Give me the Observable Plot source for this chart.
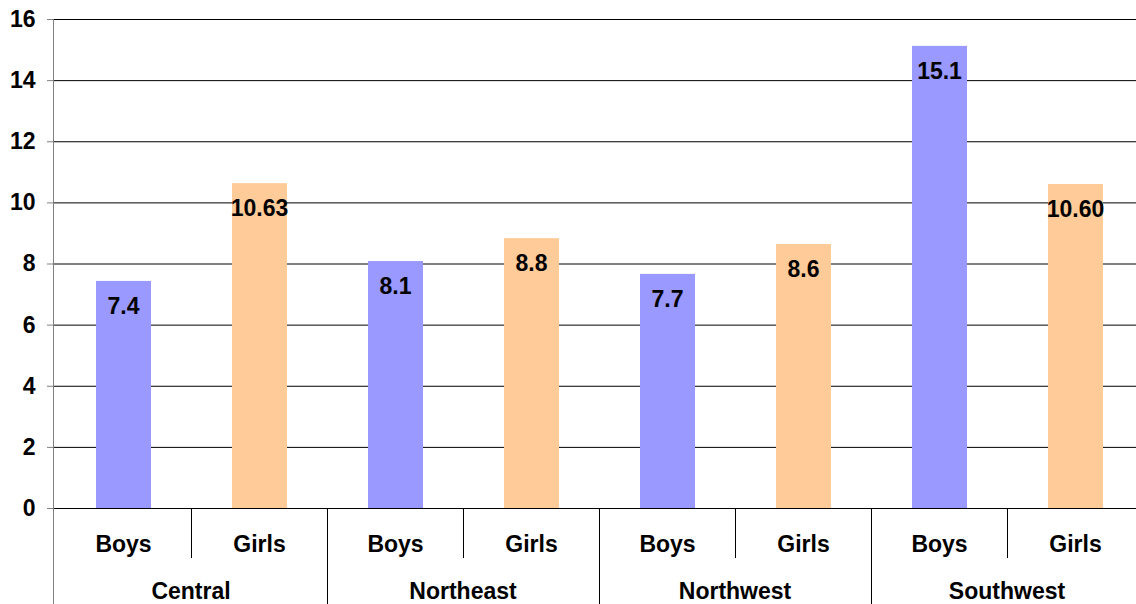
<!DOCTYPE html>
<html>
<head>
<meta charset="utf-8">
<script src="https://cdn.jsdelivr.net/npm/d3@7"></script>
<script src="https://cdn.jsdelivr.net/npm/@observablehq/plot@0.6"></script>
<style>
  html, body { margin: 0; padding: 0; background: #fff; overflow: hidden; }
  #chart svg { display: block; }
</style>
</head>
<body>
<div id="chart"></div>
<script>
const regions = ["Central", "Northeast", "Northwest", "Southwest"];
const sexes = ["Boys", "Girls"];
const boysValues = [7.43, 8.08, 7.66, 15.12];
const girlsValues = [10.63, 8.83, 8.64, 10.60];
const boysLabels = ["7.4", "8.1", "7.7", "15.1"];
const girlsLabels = ["10.63", "8.8", "8.6", "10.60"];
const yTicks = [0, 2, 4, 6, 8, 10, 12, 14, 16];
const colors = {Boys: "#9999FF", Girls: "#FFCC99"};

const rows = [];
regions.forEach((r, i) => {
  rows.push({region: r, sex: "Boys", key: r + "|Boys", value: boysValues[i], label: boysLabels[i]});
  rows.push({region: r, sex: "Girls", key: r + "|Girls", value: girlsValues[i], label: girlsLabels[i]});
});
const keys = rows.map(d => d.key);
const regionRows = regions.map(r => ({region: r, key: r + "|Boys"}));

const W = 1136, H = 604;
const FS = 23;
const font = "'Liberation Sans', Arial, sans-serif";

const plot = Plot.plot({
  width: W,
  height: H,
  marginLeft: 53,
  marginRight: 0,
  marginTop: 19,
  marginBottom: 96,
  style: {fontFamily: font, fontSize: FS + "px", fontWeight: "bold", color: "#000", background: "#fff", overflow: "hidden"},
  x: {type: "band", domain: keys, padding: 0, range: [53.3, 1144.3], axis: null},
  y: {domain: [0, 16], axis: null, label: null},
  marks: [
    Plot.ruleY(yTicks, {stroke: "#000", strokeWidth: 1}),
    Plot.barY(rows, {x: "key", y: "value", fill: d => colors[d.sex], insetLeft: 41, insetRight: 40}),
    Plot.axisY({ticks: yTicks, label: null, tickSize: 6, tickPadding: 12, fontSize: FS, fontWeight: "bold", stroke: "#808080"}),
    Plot.text(rows, {x: "key", y: "value", text: "label", dy: 25, fontSize: FS, fontWeight: "bold", fill: "#000"}),
    Plot.text(rows, {x: "key", y: () => 0, text: "sex", dy: 36, fontSize: FS, fontWeight: "bold", fill: "#000"})
  ]
});

// hierarchical axis separators and region labels, placed with the plot's own scales
const xs = plot.scale("x");
const ys = plot.scale("y");
const bw = xs.bandwidth;
const y0 = ys.apply(0);
const svg = d3.select(plot);
const g = svg.append("g").attr("stroke", "#000").attr("stroke-width", 1);
// y axis line
g.append("line").attr("x1", 53.5).attr("x2", 53.5).attr("y1", ys.apply(16)).attr("y2", H).attr("stroke", "#808080");
rows.forEach(d => {
  const xEnd = Math.round(xs.apply(d.key) + bw) + 0.5;
  const isRegionEnd = d.sex === "Girls";
  g.append("line")
    .attr("x1", xEnd).attr("x2", xEnd)
    .attr("y1", y0).attr("y2", isRegionEnd ? H : y0 + 50);
});
const t = svg.append("g")
  .attr("font-family", font).attr("font-size", FS).attr("font-weight", "bold")
  .attr("text-anchor", "middle").attr("fill", "#000");
regionRows.forEach(d => {
  t.append("text")
    .attr("x", xs.apply(d.key) + bw)
    .attr("y", y0 + 83)
    .attr("dy", "0.35em")
    .text(d.region);
});

document.getElementById("chart").appendChild(plot);
</script>
</body>
</html>
